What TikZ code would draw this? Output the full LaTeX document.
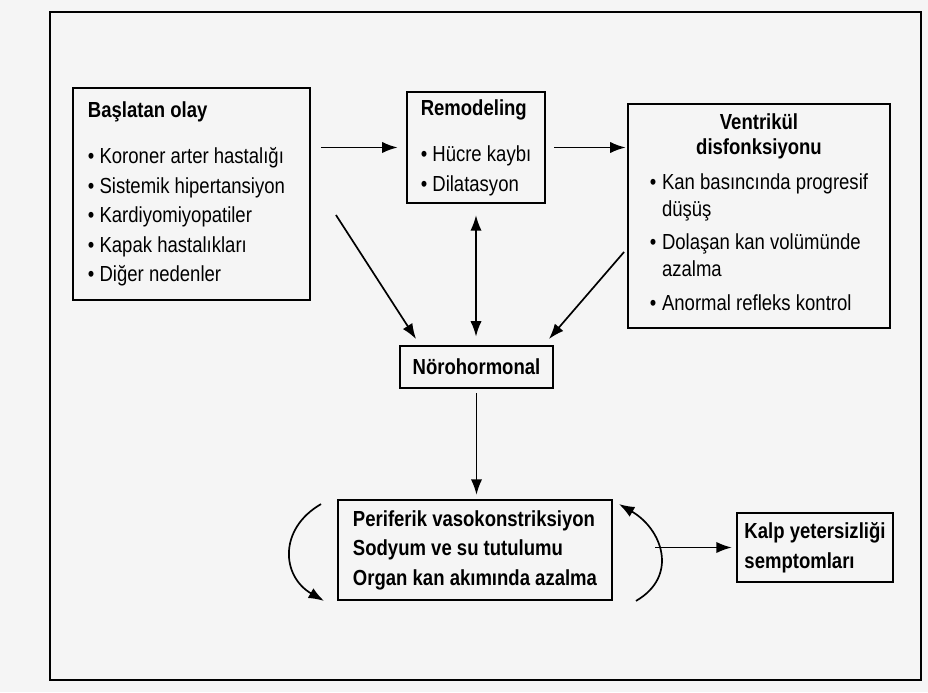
\documentclass[tikz,border=0pt]{standalone}
\usepackage{fontspec}
\setmainfont{Liberation Sans}[FakeStretch=0.85]
\usetikzlibrary{arrows.meta}
\tikzset{
  ucu/.tip={Latex[length=11pt,width=8pt]},
  kutu/.style={draw,line width=1.3pt,inner sep=0pt,font=\fontsize{15.5}{21}\selectfont},
  kalin/.style={font=\fontsize{15.5}{21}\selectfont\bfseries},
  arr/.style={line width=1.2pt,-ucu},
  dbl/.style={line width=1.2pt,ucu-ucu},
}
\begin{document}
\begin{tikzpicture}[x=0.025cm,y=0.025cm]
        \fill[black!4] (0,0) rectangle (928,692);
        \useasboundingbox (0,0) rectangle (928,692);
        \draw[line width=1.4pt] (50,12) rectangle (921,680);
        \node[kutu,minimum width=5.925cm,minimum height=5.3cm,text width=5.175cm,align=flush left] at (191.5,498) (olay)
          {\textbf{Başlatan olay}\\[12pt] • Koroner arter hastalığı\\ • Sistemik hipertansiyon\\ • Kardiyomiyopatiler\\ • Kapak hastalıkları\\ • Diğer nedenler};
        \node[kutu,minimum width=3.45cm,minimum height=2.775cm,align=left] at (476,544.5) (remod)
          {\textbf{Remodeling}\\[12pt] • Hücre kaybı\\ • Dilatasyon};
        \node[kutu,font=\fontsize{15.5}{19}\selectfont,minimum width=6.55cm,minimum height=5.6cm,align=center] at (759,476) (ventr)
          {\textbf{Ventrikül}\\[-1pt] \textbf{disfonksiyonu}\\[7pt]
           \begin{tabular}{@{}l@{\hspace{4pt}}l@{}}
             • & Kan basıncında progresif\\ & düşüş\\[5pt]
             • & Dolaşan kan volümünde\\ & azalma\\[5pt]
             • & Anormal refleks kontrol
           \end{tabular}};
        \node[kutu,minimum width=3.825cm,minimum height=1.05cm] at (476.5,325) (noro) {\textbf{Nörohormonal}};
        \node[kutu,kalin,minimum width=6.85cm,minimum height=2.5cm,align=left] at (475,142) (per)
          {Periferik vasokonstriksiyon\\ Sodyum ve su tutulumu\\ Organ kan akımında azalma};
        \node[kutu,kalin,minimum width=3.9cm,minimum height=1.725cm,align=left] at (815,144.5) (kalp)
          {Kalp yetersizliği\\ semptomları};
        \coordinate (sol1) at ([shift={(-16,-5)}]per.north west);
        \coordinate (sol2) at ([shift={(-13,0)}]per.south west);
        \coordinate (sag1) at ([shift={(23,0)}]per.south east);
        \coordinate (sag2) at ([shift={(6,-5)}]per.north east);
        \draw[arr,shorten <=7pt,shorten >=6pt] (olay.east |- remod.west) -- (remod.west);
        \draw[arr,shorten <=6pt,shorten >=1pt] (remod.east) -- (remod.east -| ventr.west);
        \draw[arr] ([shift={(25,-21)}]olay.east) -- ([shift={(17,6)}]noro.north west);
        \draw[dbl,shorten <=8pt,shorten >=6pt] (remod.south) -- (remod.south |- noro.north);
        \draw[arr] ([shift={(-3,-36)}]ventr.west) -- ([shift={(-5,6)}]noro.north east);
        \draw[arr,shorten <=3pt,shorten >=3pt] (noro.south) -- (noro.south |- per.north);
        \draw[arr,shorten <=30pt,shorten >=3pt] (per.east |- kalp.west) -- (kalp.west);
        \draw[arr] (sol1) to[out=210,in=150,looseness=1.3] (sol2);
        \draw[arr] (sag1) to[out=30,in=-30,looseness=1.3] (sag2);
      \end{tikzpicture}
\end{document}
